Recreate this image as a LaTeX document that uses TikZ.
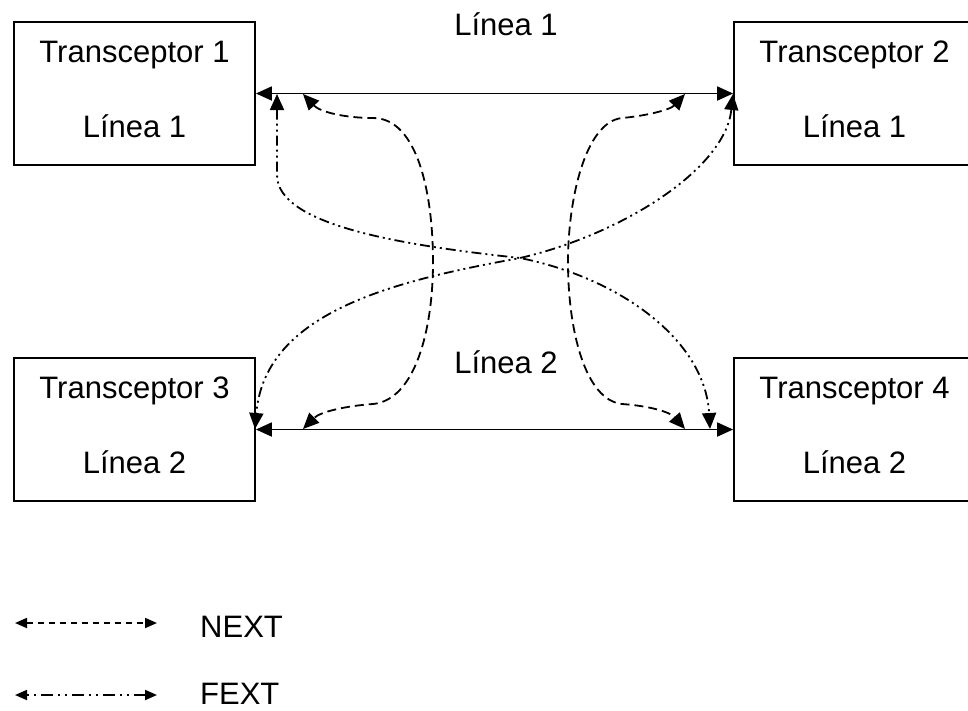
\documentclass[tikz,border=0pt]{standalone}
\usepackage{fontspec}
\setmainfont{Liberation Sans}
\usetikzlibrary{arrows.meta}
\begin{document}
\begin{tikzpicture}[x=1pt,y=-1pt,
  box/.style={draw,line width=1.8pt,minimum width=241pt,minimum height=143pt,inner sep=0pt},
  lbl/.style={inner sep=0pt,anchor=base,font=\fontsize{31}{37}\selectfont},
  solidline/.style={line width=1.8pt,{Triangle[length=16pt,width=14pt]}-{Triangle[length=16pt,width=14pt]}},
  nextline/.style={line width=1.8pt,dash pattern=on 9pt off 5pt,{Triangle[length=16pt,width=14pt]}-{Triangle[length=16pt,width=14pt]}},
  fextline/.style={line width=1.8pt,dash pattern=on 10pt off 4pt on 2pt off 4pt on 2pt off 4pt,{Triangle[length=16pt,width=14pt]}-{Triangle[length=16pt,width=14pt]}},
  legnext/.style={line width=1.8pt,dash pattern=on 6pt off 5pt,{Triangle[length=12pt,width=10pt]}-{Triangle[length=12pt,width=10pt]}},
  legfext/.style={line width=1.8pt,dash pattern=on 2pt off 5pt on 2pt off 5pt on 12pt off 5pt,{Triangle[length=12pt,width=10pt]}-{Triangle[length=12pt,width=10pt]}}
]
\useasboundingbox (0,0) rectangle (968,710);
% boxes
\node[box] (b1) at (134.5,93.5) {};
\node[box] (b2) at (854.5,93.5) {};
\node[box] (b3) at (134.5,429.5) {};
\node[box] (b4) at (854.5,429.5) {};
% box texts
\node[lbl] (t1a) at (134.5,62) {Transceptor 1};
\node[lbl] (t1b) at (134.5,137) {Línea 1};
\node[lbl] (t2a) at (854.5,62) {Transceptor 2};
\node[lbl] (t2b) at (854.5,137) {Línea 1};
\node[lbl] (t3a) at (134.5,398) {Transceptor 3};
\node[lbl] (t3b) at (134.5,473) {Línea 2};
\node[lbl] (t4a) at (854.5,398) {Transceptor 4};
\node[lbl] (t4b) at (854.5,473) {Línea 2};
% line labels
\node[lbl] (l1) at (506,35) {Línea 1};
\node[lbl] (l2) at (506,373) {Línea 2};
% solid lines
\draw[solidline] (b1.east) -- (b2.west);
\draw[solidline] (b3.east) -- (b4.west);
% endpoints of crosstalk curves
\coordinate (n1s) at (303,94);
\coordinate (n1e) at (303,429);
\coordinate (n2s) at (685,94);
\coordinate (n2e) at (685,429);
\coordinate (f1s) at (277,94);
\coordinate (f1e) at (710,429);
\coordinate (f2s) at (733,94);
\coordinate (f2e) at (255,429);
% NEXT curves
\draw[nextline] (n1s) .. controls (320,112) and (345,118) .. (373,118)
  .. controls (418,118) and (433,195) .. (433,262)
  .. controls (433,330) and (415,400) .. (373,404)
  .. controls (345,406) and (320,412) .. (n1e);
\draw[nextline] (n2s) .. controls (670,110) and (645,116) .. (622,118)
  .. controls (585,122) and (568,200) .. (568,262)
  .. controls (568,330) and (585,400) .. (622,404)
  .. controls (650,406) and (670,412) .. (n2e);
% FEXT curves
\draw[fextline] (f1s) -- (277,175) .. controls (277,225) and (400,245) .. (520,258)
  .. controls (620,278) and (705,340) .. (f1e);
\draw[fextline] (f2s) .. controls (725,170) and (620,235) .. (520,258)
  .. controls (400,280) and (265,310) .. (f2e);
% legend
\coordinate (ln1) at (15,623);
\coordinate (ln2) at (157,623);
\coordinate (lf1) at (15,695);
\coordinate (lf2) at (157,695);
\draw[legnext] (ln1) -- (ln2);
\draw[legfext] (lf1) -- (lf2);
\node[lbl,anchor=base west] (next) at (200,637) {NEXT};
\node[lbl,anchor=base west] (fext) at (200,704) {FEXT};
\end{tikzpicture}
\end{document}
